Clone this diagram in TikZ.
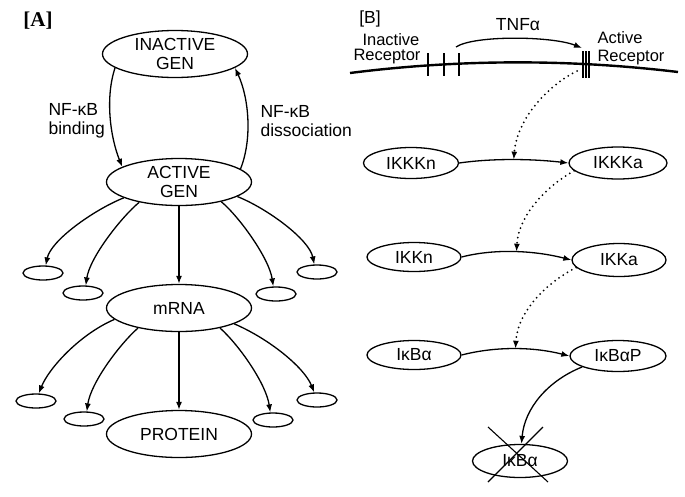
\documentclass[tikz,border=0pt]{standalone}
\usepackage{fontspec}
\setmainfont{Liberation Sans}
\newfontfamily\labserif{Liberation Serif}
\usetikzlibrary{shapes.geometric,arrows.meta}
\begin{document}
\begin{tikzpicture}[x=1pt,y=-1pt,
  txt/.style={font=\fontsize{17.5}{18.5}\selectfont},
  rtxt/.style={font=\fontsize{16.5}{17.5}\selectfont},
  ell/.style={draw,ellipse,line width=1.3pt,inner sep=0pt,align=center,txt},
  big/.style={ell,minimum width=145pt,minimum height=47pt},
  sm/.style={ell,minimum width=40pt,minimum height=14pt},
  tip/.style={-{Latex[length=8pt,width=6pt]}},
  arr/.style={line width=1.3pt,tip},
  dots/.style={line width=2pt,dash pattern=on 0pt off 5pt,line cap=round,tip},
]
\useasboundingbox (0,0) rectangle (685,496);

% ---------- Panel A ----------
\node[font=\labserif\bfseries\fontsize{21}{21}\selectfont] (lA) at (38,21) {[A]};
\node[big] (inact) at (175,54) {INACTIVE\\GEN};
\node[big] (act) at (179,182) {ACTIVE\\GEN};
\node[big] (mrna) at (179,308) {mRNA};
\node[big] (prot) at (179,434) {PROTEIN};

\node[sm] (e1) at (43,273) {};
\node[sm] (e2) at (83,293) {};
\node[sm] (e3) at (276,294) {};
\node[sm] (e4) at (317,272) {};
\node[sm] (f1) at (36,401) {};
\node[sm] (f2) at (84,419) {};
\node[sm] (f3) at (273,420) {};
\node[sm] (f4) at (317,400) {};

\node[txt,align=left,anchor=west] (lbind) at (45,121) {NF-κB\\binding};
\node[txt,align=left,anchor=west] (ldiss) at (257,121) {NF-κB\\dissociation};

\draw[arr] (inact.193) .. controls +(-10,30) and +(-12,-30) .. (act.165);
\draw[arr] (act.12) .. controls +(12,-30) and +(14,30) .. (inact.347);

\draw[arr] (act.196) .. controls +(-30,12) and +(5,-25) .. (e1.70);
\draw[arr] (act.207) .. controls +(-18,15) and +(4,-28) .. (e2.70);
\draw[arr] (act.south) -- (mrna.north);
\draw[arr] (act.335) .. controls +(18,15) and +(-4,-28) .. (e3.110);
\draw[arr] (act.346) .. controls +(30,12) and +(-5,-25) .. (e4.110);

\draw[arr] (mrna.190) .. controls +(-35,15) and +(10,-25) .. (f1.70);
\draw[arr] (mrna.206) .. controls +(-20,18) and +(4,-28) .. (f2.70);
\draw[arr] (mrna.south) -- (prot.north);
\draw[arr] (mrna.334) .. controls +(20,18) and +(-4,-28) .. (f3.110);
\draw[arr] (mrna.344) .. controls +(35,15) and +(-10,-25) .. (f4.110);

% ---------- Panel B ----------
\node[txt] (lB) at (370,19) {[B]};
\draw[line width=2.4pt] (350,73) .. controls (460,59) and (570,59) .. (678,72);
\foreach \x in {428,444,459} \draw[line width=1.8pt] (\x,53) -- (\x,76);
\foreach \x in {583,586,589} \draw[line width=1.2pt] (\x,51) -- (\x,78);
\node[rtxt,anchor=west] (inrec1) at (359,40) {Inactive};
\node[rtxt,anchor=east] (inrec2) at (424,57) {Receptor};
\node[rtxt,align=left,anchor=west] (acrec) at (594,48) {Active\\Receptor};
\node[txt] (tnf) at (518,25) {TNFα};
\coordinate (tnfs) at (456,47);
\coordinate (tnfe) at (582,48);
\draw[arr] (tnfs) .. controls +(18,-12) and +(-30,-12) .. (tnfe);
\coordinate (recpt) at (577,71);

\node[ell,minimum width=95pt,minimum height=31pt] (ikkkn) at (411,163) {IKKKn};
\node[ell,minimum width=98pt,minimum height=32pt] (ikkka) at (618,163) {IKKKa};
\node[ell,minimum width=94pt,minimum height=29pt] (ikkn) at (414,257) {IKKn};
\node[ell,minimum width=94pt,minimum height=33pt] (ikka) at (619,260) {IKKa};
\node[ell,minimum width=94pt,minimum height=29pt] (ikba) at (414,355) {IκBα};
\node[ell,minimum width=96pt,minimum height=31pt] (ikbap) at (618,356) {IκBαP};
\node[ell,minimum width=95pt,minimum height=33pt] (ikbx) at (520,461) {IκBα};

\draw[arr] (ikkkn.east) .. controls +(35,-5) and +(-35,-4) .. (ikkka.west) coordinate[pos=.5] (m1);
\draw[arr] (ikkn.east) .. controls +(35,-9) and +(-35,-9) .. (ikka.west) coordinate[pos=.5] (m2);
\draw[arr] (ikba.east) .. controls +(35,-9) and +(-35,-9) .. (ikbap.west) coordinate[pos=.5] (m3);

\draw[dots] (recpt) .. controls +(-30,15) and +(3,-40) .. (m1);
\draw[dots] (ikkka.190) .. controls +(-25,14) and +(2,-38) .. (m2);
\draw[dots] (ikka.190) .. controls +(-28,14) and +(2,-38) .. (m3);

\draw[arr] (ikbap.197) .. controls +(-35,14) and +(3,-35) .. (ikbx.85);
\draw[line width=1.1pt] (488,427) -- (548,482);
\draw[line width=1.1pt] (543,427) -- (488,482);
\end{tikzpicture}
\end{document}
